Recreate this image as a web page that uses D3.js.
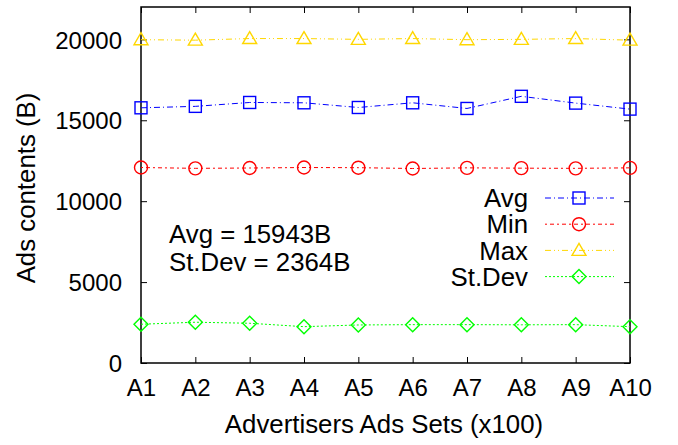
<!DOCTYPE html>
<html><head><meta charset="utf-8">
<script src="https://cdn.jsdelivr.net/npm/d3@7"></script>
<style>body{margin:0;background:#fff}svg{display:block}text{font-family:"Liberation Sans",Arial,sans-serif;fill:#000}</style>
</head><body><svg id="c" width="678" height="445"></svg>
<script>
const categories = ["A1","A2","A3","A4","A5","A6","A7","A8","A9","A10"];
const avgValues = [15770,15860,16100,16080,15790,16080,15730,16480,16060,15690];
const minValues = [12080,12030,12050,12080,12070,12020,12060,12040,12030,12060];
const maxValues = [19980,19950,20050,20050,20000,20050,19980,20000,20050,19950];
const stdValues = [2395,2520,2456,2245,2350,2370,2370,2360,2370,2245];
const yTicks = [0,5000,10000,15000,20000];
const seriesNames = ["Avg","Min","Max","St.Dev"];
const seriesColors = ["#0000ff","#ff0000","#ffd700","#00ff00"];
const seriesDash = ["6,3,1,3","2,3,4,3","6,3,1,3,1,3","2,2"];
const annotations = ["Avg = 15943B","St.Dev = 2364B"];

const svg = d3.select("#c");
const L=141,R=630,T=7,B=363;
const x = d3.scalePoint().domain(categories).range([L,R]);
const y = d3.scaleLinear().domain([0,22000]).range([B,T]);
const fs = 24, fs2 = 25.8;

const gx = svg.append("g").attr("transform",`translate(0,${B})`)
  .call(d3.axisBottom(x).tickSizeInner(-6).tickSizeOuter(0).tickPadding(16));
const gxt = svg.append("g").attr("transform",`translate(0,${T})`)
  .call(d3.axisTop(x).tickSizeInner(-6).tickSizeOuter(0).tickFormat(""));
const gy = svg.append("g").attr("transform",`translate(${L},0)`)
  .call(d3.axisLeft(y).tickValues(yTicks).tickSizeInner(-6).tickSizeOuter(0).tickPadding(19).tickFormat(d3.format("d")));
const gyr = svg.append("g").attr("transform",`translate(${R},0)`)
  .call(d3.axisRight(y).tickValues(yTicks).tickSizeInner(-6).tickSizeOuter(0).tickFormat(""));
[gx,gxt,gy,gyr].forEach(g=>{g.select(".domain").remove();g.selectAll("line").attr("stroke","#000").attr("stroke-width",1);
  g.selectAll("text").style("font-size",fs+"px").style("font-family",'"Liberation Sans",Arial,sans-serif').attr("fill","#000");});
gy.selectAll("text").attr("dy","0.36em");
gx.selectAll("text").attr("dy","0.71em");

svg.append("rect").attr("x",L).attr("y",T).attr("width",R-L).attr("height",B-T)
  .attr("fill","none").attr("stroke","#000").attr("stroke-width",1.5);

const data = [avgValues,minValues,maxValues,stdValues];
const line = d3.line().x((d,i)=>x(categories[i])).y(d=>y(d));
function marker(g,k,cx,cy){
  const c=seriesColors[k];
  if(k===0) g.append("rect").attr("x",cx-6).attr("y",cy-6).attr("width",12).attr("height",12);
  else if(k===1) g.append("circle").attr("cx",cx).attr("cy",cy).attr("r",6.5);
  else if(k===2) g.append("path").attr("d",`M${cx},${cy-7}L${cx+7},${cy+5}L${cx-7},${cy+5}Z`);
  else g.append("path").attr("d",`M${cx},${cy-7}L${cx+7},${cy}L${cx},${cy+7}L${cx-7},${cy}Z`);
  g.selectAll(":last-child").attr("fill","none").attr("stroke",c).attr("stroke-width",1.4);
}
data.forEach((vals,k)=>{
  svg.append("path").datum(vals).attr("d",line).attr("fill","none")
    .attr("stroke",seriesColors[k]).attr("stroke-width",1).attr("stroke-dasharray",seriesDash[k]);
  const g=svg.append("g");
  vals.forEach((v,i)=>marker(g,k,x(categories[i]),y(v)));
});

seriesNames.forEach((n,k)=>{
  const yy = 198 + k*26.2;
  svg.append("text").attr("x",528).attr("y",yy).attr("dy","0.36em").attr("text-anchor","end").style("font-size",fs2+"px").text(n);
  svg.append("line").attr("x1",545).attr("x2",614).attr("y1",yy).attr("y2",yy)
    .attr("stroke",seriesColors[k]).attr("stroke-width",1).attr("stroke-dasharray",seriesDash[k]);
  const g=svg.append("g"); marker(g,k,579,yy);
});

annotations.forEach((t,i)=>{
  svg.append("text").attr("x",169).attr("y",243+i*27.5).style("font-size",fs2+"px").text(t);
});

svg.append("text").attr("x",384).attr("y",433).attr("text-anchor","middle").style("font-size",fs2+"px").text("Advertisers Ads Sets (x100)");
svg.append("text").attr("transform","translate(35,188) rotate(-90)").attr("text-anchor","middle").style("font-size",fs2+"px").text("Ads contents (B)");
</script></body></html>
